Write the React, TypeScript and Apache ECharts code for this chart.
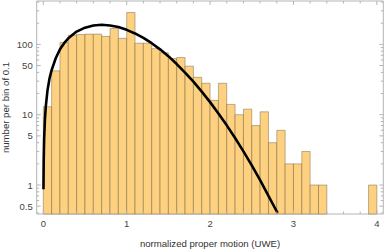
import React, { useEffect, useRef } from "react";
import * as echarts from "echarts";

// histogram: counts per bin of width 0.1, starting at 0
const binWidth = 0.1;
const counts = [13, 42, 106, 135, 138, 140, 140, 130, 168, 122, 284, 104, 104, 87, 76, 63, 65, 49, 34, 28, 16, 28, 14, 10, 12, 7, 11, 4, 6, 2, 2, 3, 1, 1, 0, 0, 0, 0, 0, 1];

// black model curve
const curveX = [0.002, 0.005, 0.01, 0.02, 0.03, 0.05, 0.075, 0.1, 0.15, 0.2, 0.25, 0.3, 0.4, 0.5, 0.6, 0.7, 0.8, 0.9, 1.0, 1.1, 1.2, 1.3, 1.4, 1.5, 1.6, 1.7, 1.8, 1.9, 2.0, 2.1, 2.2, 2.3, 2.4, 2.5, 2.6, 2.7, 2.8, 2.81];
const curveY = [0.87, 2.2, 4.4, 8.8, 13, 22, 33, 43, 64, 85, 104, 122, 152, 173, 186, 190, 186, 177, 161, 143, 124, 104, 85, 68, 52.5, 39.6, 29.5, 21.3, 15.1, 10.4, 7.05, 4.67, 3.01, 1.9, 1.17, 0.7, 0.42, 0.4];

// axes
const xMajorTicks = [0, 1, 2, 3, 4];
const xTickLabels = ["0", "1", "2", "3", "4"];
const xMinorTicks = [0.2, 0.4, 0.6, 0.8, 1.2, 1.4, 1.6, 1.8, 2.2, 2.4, 2.6, 2.8, 3.2, 3.4, 3.6, 3.8];
const yMajorTicks = [0.5, 1, 5, 10, 50, 100];
const yTickLabels = ["0.5", "1", "5", "10", "50", "100"];
const yMinorTicks = [0.4, 0.6, 0.7, 0.8, 0.9, 2, 3, 4, 6, 7, 8, 9, 20, 30, 40, 60, 70, 80, 90, 200, 300, 400];

const X_MIN = -0.079;
const X_MAX = 4.077;
const Y_MIN = 0.387;
const Y_MAX = 414;

const FRAME = "#b4b4b4";
const LABEL = "#444444";
const FONT = "'Liberation Sans', Arial, sans-serif";

export default function App() {
  const ref = useRef<HTMLDivElement>(null);
  useEffect(() => {
    if (!ref.current) return;
    const chart = echarts.init(ref.current, undefined, { renderer: "svg" });

    const barData = counts
      .map((c, i) => [i * binWidth, c])
      .filter((d) => d[1] > 0);

    const xTick = (len: number) => (params: any, api: any) => {
      const v = api.value(0);
      const b = api.coord([v, Y_MIN]);
      const t = api.coord([v, Y_MAX]);
      const st = { stroke: FRAME, lineWidth: 1 };
      return {
        type: "group",
        children: [
          { type: "line", shape: { x1: b[0], y1: b[1], x2: b[0], y2: b[1] - len }, style: st },
          { type: "line", shape: { x1: t[0], y1: t[1], x2: t[0], y2: t[1] + len }, style: st },
        ],
      };
    };
    const yTick = (len: number) => (params: any, api: any) => {
      const v = api.value(1);
      const l = api.coord([X_MIN, v]);
      const r = api.coord([X_MAX, v]);
      const st = { stroke: FRAME, lineWidth: 1 };
      return {
        type: "group",
        children: [
          { type: "line", shape: { x1: l[0], y1: l[1], x2: l[0] + len, y2: l[1] }, style: st },
          { type: "line", shape: { x1: r[0], y1: r[1], x2: r[0] - len, y2: r[1] }, style: st },
        ],
      };
    };

    chart.setOption({
      animation: false,
      grid: {
        left: 36.7,
        right: 2.7,
        top: 1,
        bottom: 35,
        show: true,
        borderColor: FRAME,
        borderWidth: 1,
        backgroundColor: "transparent",
      },
      xAxis: {
        type: "value",
        min: X_MIN,
        max: X_MAX,
        axisLine: { show: false },
        axisTick: { show: false },
        axisLabel: { show: false },
        splitLine: { show: false },
      },
      yAxis: {
        type: "log",
        logBase: 10,
        min: Y_MIN,
        max: Y_MAX,
        axisLine: { show: false },
        axisTick: { show: false },
        axisLabel: { show: false },
        splitLine: { show: false },
      },
      graphic: [
        {
          type: "text",
          x: 210,
          y: 243,
          style: {
            text: "normalized proper motion (UWE)",
            font: `9.6px ${FONT}`,
            fill: "#333",
            align: "center",
            verticalAlign: "middle",
          },
        },
        {
          type: "text",
          x: 5.2,
          y: 107.5,
          rotation: Math.PI / 2,
          style: {
            text: "number per bin of 0.1",
            font: `9.6px ${FONT}`,
            fill: "#333",
            align: "center",
            verticalAlign: "middle",
          },
        },
      ],
      series: [
        {
          type: "custom",
          name: "bars",
          data: barData,
          renderItem: (params: any, api: any) => {
            const x0 = api.value(0);
            const c = api.value(1);
            const p0 = api.coord([x0, c]);
            const p1 = api.coord([x0 + binWidth, Y_MIN]);
            return {
              type: "rect",
              shape: { x: p0[0], y: p0[1], width: p1[0] - p0[0], height: p1[1] - p0[1] },
              style: { fill: "#fdd180", stroke: "rgba(95,80,55,0.45)", lineWidth: 0.9 },
            };
          },
          z: 1,
        },
        {
          type: "line",
          data: curveX.map((x, i) => [x, curveY[i]]),
          showSymbol: false,
          symbol: "none",
          lineStyle: { color: "#000", width: 2.6 },
          z: 3,
        },
        { type: "custom", data: xMajorTicks.map((v) => [v, 1]), renderItem: xTick(4), z: 4, silent: true },
        { type: "custom", data: xMinorTicks.map((v) => [v, 1]), renderItem: xTick(2.5), z: 4, silent: true },
        { type: "custom", data: yMajorTicks.map((v) => [0, v]), renderItem: yTick(4), z: 4, silent: true },
        { type: "custom", data: yMinorTicks.map((v) => [0, v]), renderItem: yTick(2.5), z: 4, silent: true },
        {
          type: "custom",
          data: xMajorTicks.map((v) => [v, 1]),
          clip: false,
          silent: true,
          renderItem: (params: any, api: any) => {
            const p = api.coord([api.value(0), Y_MIN]);
            return {
              type: "text",
              x: p[0],
              y: p[1] + 9,
              style: {
                text: xTickLabels[params.dataIndex],
                font: `9.5px ${FONT}`,
                fill: LABEL,
                align: "center",
                verticalAlign: "middle",
              },
            };
          },
        },
        {
          type: "custom",
          data: yMajorTicks.map((v) => [0, v]),
          clip: false,
          silent: true,
          renderItem: (params: any, api: any) => {
            const p = api.coord([X_MIN, api.value(1)]);
            return {
              type: "text",
              x: p[0] - 4,
              y: p[1],
              style: {
                text: yTickLabels[params.dataIndex],
                font: `9.5px ${FONT}`,
                fill: LABEL,
                align: "right",
                verticalAlign: "middle",
              },
            };
          },
        },
      ],
    });
    return () => chart.dispose();
  }, []);
  return (
    <div
      ref={ref}
      style={{ position: "absolute", left: 0, top: 0, width: 386, height: 249 }}
    />
  );
}
